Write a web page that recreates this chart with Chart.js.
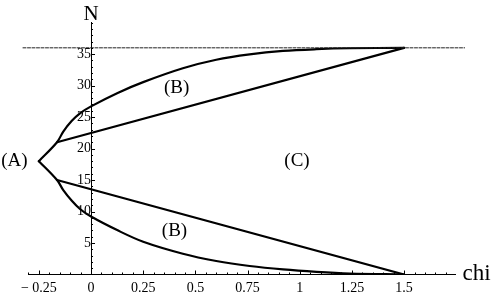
<!DOCTYPE html>
<html><head><meta charset="utf-8">
<script src="https://cdn.jsdelivr.net/npm/chart.js@4"></script>
<style>html,body{margin:0;padding:0;background:#fff}canvas{display:block}</style>
</head><body>
<canvas id="c" width="494" height="299"></canvas>
<script>
// ---- data ----
const xTickValues = [-0.25, 0, 0.25, 0.5, 0.75, 1, 1.25, 1.5];
const xTickLabels = ['\u2212 0.25', '0', '0.25', '0.5', '0.75', '1', '1.25', '1.5'];
const yTickValues = [5, 10, 15, 20, 25, 30, 35];
const yTickLabels = ['5', '10', '15', '20', '25', '30', '35'];

const upperCurveChi = [-0.25, -0.163, -0.133, -0.092, -0.053, 0, 0.125, 0.25, 0.44, 0.60, 0.76, 0.92, 1.08, 1.24, 1.5];
const upperCurveN   = [18, 21, 22.7, 24.4, 25.6, 26.7, 28.8, 30.55, 32.75, 34.1, 34.95, 35.5, 35.78, 35.93, 36];
const lowerCurveChi = [-0.25, -0.163, -0.133, -0.092, -0.053, 0, 0.125, 0.25, 0.44, 0.60, 0.76, 0.92, 1.08, 1.24, 1.5];
const lowerCurveN   = [18, 15, 13.4, 11.7, 10.4, 9.2, 7.05, 5.2, 3.3, 2.15, 1.35, 0.8, 0.42, 0.16, 0];
const upperLineChi = [-0.163, 1.5];
const upperLineN   = [21, 36];
const lowerLineChi = [-0.163, 1.5];
const lowerLineN   = [15, 0];
const limitChi = [-0.326, 1.79];
const limitN   = [36, 36];

const regionLabels = ['(A)', '(B)', '(B)', '(C)'];
const axisTitleX = 'chi';
const axisTitleY = 'N';

// ---- placement (data units) ----
const regionLabelPos = [[-0.367, 18], [0.41, 29.6], [0.40, 6.9], [0.987, 18]];
const titleYPos = [0, 41.3];
const titleXPos = [1.78, -0.87];

const pts = (xs, ys) => xs.map((x, i) => ({x: x, y: ys[i]}));

const curveStyle = {borderColor: '#000', borderWidth: 2.2, pointRadius: 0, showLine: true, fill: false};
const serif = '"Liberation Serif", "Times New Roman", serif';

const annot = {
  id: 'annot',
  afterDraw(chart) {
    const ctx = chart.ctx, xs = chart.scales.x, ys = chart.scales.y;
    const x0 = xs.getPixelForValue(0), y0 = ys.getPixelForValue(0);
    ctx.save();
    ctx.strokeStyle = '#000';
    ctx.lineWidth = 1;
    ctx.beginPath();
    // x minor/major ticks (inward = upward)
    for (let k = -6; k <= 34; k++) {
      const v = k * 0.05;
      if (Math.abs(v) < 1e-6) continue;
      const px = Math.round(xs.getPixelForValue(v)) + 0.5;
      const major = xTickValues.some(t => Math.abs(t - v) < 1e-6);
      ctx.moveTo(px, y0);
      ctx.lineTo(px, y0 - (major ? 4 : 2));
    }
    // y minor/major ticks (inward = right)
    for (let k = 1; k <= 40; k++) {
      const py = Math.round(ys.getPixelForValue(k)) + 0.5;
      const major = yTickValues.includes(k);
      ctx.moveTo(x0, py);
      ctx.lineTo(x0 + (major ? 4 : 2), py);
    }
    ctx.stroke();
    // texts
    ctx.fillStyle = '#000';
    ctx.textAlign = 'center';
    ctx.textBaseline = 'middle';
    ctx.font = '19px ' + serif;
    regionLabels.forEach((t, i) => {
      ctx.fillText(t, xs.getPixelForValue(regionLabelPos[i][0]), ys.getPixelForValue(regionLabelPos[i][1]));
    });
    ctx.font = '21px ' + serif;
    ctx.fillText(axisTitleY, xs.getPixelForValue(titleYPos[0]), ys.getPixelForValue(titleYPos[1]));
    ctx.textAlign = 'left';
    ctx.textBaseline = 'alphabetic';
    ctx.font = '23px ' + serif;
    ctx.fillText(axisTitleX, xs.getPixelForValue(titleXPos[0]), ys.getPixelForValue(titleXPos[1]));
    ctx.restore();
  }
};

new Chart(document.getElementById('c'), {
  type: 'scatter',
  data: {
    datasets: [
      {data: pts(limitChi, limitN), borderColor: '#222', borderWidth: 1, borderDash: [3, 1.5], pointRadius: 0, showLine: true, clip: false},
      Object.assign({data: pts(upperCurveChi, upperCurveN), tension: 0.35}, curveStyle),
      Object.assign({data: pts(lowerCurveChi, lowerCurveN), tension: 0.35}, curveStyle),
      Object.assign({data: pts(upperLineChi, upperLineN)}, curveStyle),
      Object.assign({data: pts(lowerLineChi, lowerLineN)}, curveStyle)
    ]
  },
  options: {
    responsive: false,
    animation: false,
    devicePixelRatio: 1,
    layout: {padding: {left: 28, right: 39, top: 22, bottom: 24.5}},
    plugins: {legend: {display: false}, tooltip: {enabled: false}},
    elements: {line: {borderCapStyle: 'round', borderJoinStyle: 'round'}},
    scales: {
      x: {
        type: 'linear', min: -0.302, max: 1.744, position: {y: 0},
        afterBuildTicks: s => { s.ticks = xTickValues.map(v => ({value: v})); },
        ticks: {callback: (v, i) => xTickLabels[i], autoSkip: false, maxRotation: 0, padding: 5,
                color: '#000', font: {family: serif, size: 14}},
        grid: {display: true, drawOnChartArea: false, drawTicks: false},
        border: {display: true, color: '#000', width: 1}
      },
      y: {
        type: 'linear', min: 0, max: 40.1, position: {x: 0},
        afterBuildTicks: s => { s.ticks = yTickValues.map(v => ({value: v})); },
        ticks: {callback: (v, i) => yTickLabels[i], autoSkip: false, padding: 7,
                color: '#000', font: {family: serif, size: 14}},
        grid: {display: true, drawOnChartArea: false, drawTicks: false},
        border: {display: true, color: '#000', width: 1}
      }
    }
  },
  plugins: [annot]
});
</script>
</body></html>
